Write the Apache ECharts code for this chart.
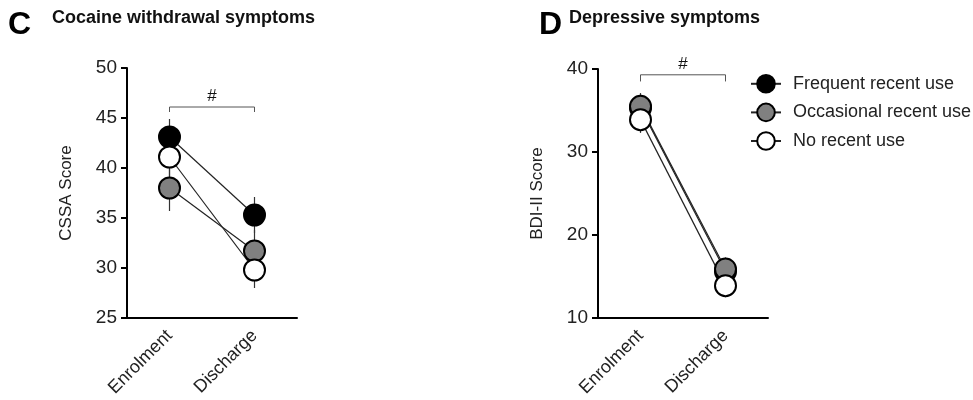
<!DOCTYPE html>
<html>
<head>
<meta charset="utf-8">
<script src="https://cdn.jsdelivr.net/npm/echarts@6/dist/echarts.min.js"></script>
<style>
  html, body { margin: 0; padding: 0; background: #fff; }
  #chart { width: 973px; height: 400px; }
</style>
</head>
<body>
<div id="chart"></div>
<script>
// data
var categories = ["Enrolment", "Discharge"];
var groups = ["Frequent recent use", "Occasional recent use", "No recent use"];
var groupFill = ["#000000", "#808080", "#ffffff"];

// C: CSSA score
var cssaFrequent = [43.1, 35.3];
var cssaOccasional = [38.0, 31.7];
var cssaNone = [41.1, 29.8];
var cssaFrequentErr = [[41.3, 44.9], [33.5, 37.1]];
var cssaOccasionalErr = [[35.7, 40.3], [29.6, 33.8]];
var cssaNoneErr = [[39.0, 43.2], [28.0, 31.6]];
var cssaTicks = { min: 25, max: 50, interval: 5 };
var cssaBracket = { level: 46.1, drop: 45.6 };

// D: BDI-II score
var bdiFrequent = [35.3, 15.6];
var bdiOccasional = [35.5, 15.9];
var bdiNone = [33.9, 13.9];
var bdiFrequentErr = [[33.5, 37.1], [14.0, 17.2]];
var bdiOccasionalErr = [[33.9, 37.0], [14.5, 17.3]];
var bdiNoneErr = [[32.3, 35.5], [12.5, 15.3]];
var bdiTicks = { min: 10, max: 40, interval: 10 };
var bdiBracket = { level: 39.3, drop: 38.5 };

var FONT = "Liberation Sans, Arial, sans-serif";

function makeXAxis(gridIndex) {
  return {
    type: "category",
    gridIndex: gridIndex,
    data: categories,
    boundaryGap: true,
    axisLine: { lineStyle: { color: "#000", width: 2 } },
    axisTick: { alignWithLabel: true, length: 6, lineStyle: { color: "#000", width: 2 } },
    axisLabel: { rotate: 45, interval: 0, margin: 15, fontSize: 18, color: "#222", fontFamily: FONT },
    splitLine: { show: false }
  };
}

function makeYAxis(gridIndex, ticks, name) {
  return {
    type: "value",
    gridIndex: gridIndex,
    min: ticks.min,
    max: ticks.max,
    interval: ticks.interval,
    name: name,
    nameLocation: "middle",
    nameGap: 52,
    nameTextStyle: { fontSize: 17, color: "#222", fontFamily: FONT },
    axisLine: { show: true, lineStyle: { color: "#000", width: 2 } },
    axisTick: { show: true, length: 6, lineStyle: { color: "#000", width: 2 } },
    axisLabel: { fontSize: 19, color: "#222", margin: 10, fontFamily: FONT },
    splitLine: { show: false }
  };
}

function lineSeries(idx, gridIndex, values) {
  return {
    name: groups[idx],
    type: "line",
    xAxisIndex: gridIndex,
    yAxisIndex: gridIndex,
    data: values,
    symbol: "circle",
    symbolSize: 21,
    z: 3,
    lineStyle: { color: "#222", width: 1.2 },
    itemStyle: { color: groupFill[idx], borderColor: "#000", borderWidth: 2 },
    emphasis: { disabled: true },
    animation: false
  };
}

function errorSeries(gridIndex, errs) {
  var data = [];
  errs.forEach(function (e) {
    e.forEach(function (r, i) { data.push([i, r[0], r[1]]); });
  });
  return {
    type: "custom",
    xAxisIndex: gridIndex,
    yAxisIndex: gridIndex,
    z: 1,
    silent: true,
    data: data,
    renderItem: function (params, api) {
      var lo = api.coord([api.value(0), api.value(1)]);
      var hi = api.coord([api.value(0), api.value(2)]);
      return {
        type: "line",
        shape: { x1: lo[0], y1: lo[1], x2: hi[0], y2: hi[1] },
        style: { stroke: "#333", lineWidth: 1.2 }
      };
    }
  };
}

function bracketSeries(gridIndex, br) {
  return {
    type: "custom",
    xAxisIndex: gridIndex,
    yAxisIndex: gridIndex,
    clip: false,
    silent: true,
    z: 2,
    data: [[0, br.level, br.drop]],
    renderItem: function (params, api) {
      var a = api.coord([0, api.value(1)]);
      var b = api.coord([1, api.value(1)]);
      var d = api.coord([0, api.value(2)]);
      return {
        type: "group",
        children: [
          {
            type: "polyline",
            shape: { points: [[a[0], d[1]], a, b, [b[0], d[1]]] },
            style: { stroke: "#555", lineWidth: 1, fill: null }
          },
          {
            type: "text",
            style: {
              text: "#", x: (a[0] + b[0]) / 2, y: a[1] - 2,
              align: "center", verticalAlign: "bottom",
              fontSize: 17, fill: "#111", fontFamily: FONT
            }
          }
        ]
      };
    }
  };
}

var chart = echarts.init(document.getElementById("chart"), null, { renderer: "canvas" });

chart.setOption({
  animation: false,
  textStyle: { fontFamily: FONT },
  graphic: [
    { type: "text", left: 8, top: 9, style: { text: "C", fontSize: 32, fontWeight: "bold", fill: "#000", fontFamily: FONT } },
    { type: "text", left: 52, top: 9, style: { text: "Cocaine withdrawal symptoms", fontSize: 18, fontWeight: "bold", fill: "#111", fontFamily: FONT } },
    { type: "text", left: 539, top: 9, style: { text: "D", fontSize: 32, fontWeight: "bold", fill: "#000", fontFamily: FONT } },
    { type: "text", left: 569, top: 9, style: { text: "Depressive symptoms", fontSize: 18, fontWeight: "bold", fill: "#111", fontFamily: FONT } }
  ],
  legend: {
    orient: "vertical",
    left: 745,
    top: 69,
    itemWidth: 30,
    itemHeight: 22,
    itemGap: 9,
    data: groups,
    selectedMode: false,
    textStyle: { fontSize: 18, color: "#222", fontFamily: FONT, padding: [0, 0, 0, 7] }
  },
  grid: [
    { left: 127, top: 68, width: 170, height: 250, containLabel: false },
    { left: 598, top: 69, width: 170, height: 249, containLabel: false }
  ],
  xAxis: [makeXAxis(0), makeXAxis(1)],
  yAxis: [makeYAxis(0, cssaTicks, "CSSA Score"), makeYAxis(1, bdiTicks, "BDI-II Score")],
  series: [
    errorSeries(0, [cssaFrequentErr, cssaOccasionalErr, cssaNoneErr]),
    bracketSeries(0, cssaBracket),
    lineSeries(0, 0, cssaFrequent),
    lineSeries(1, 0, cssaOccasional),
    lineSeries(2, 0, cssaNone),
    errorSeries(1, [bdiFrequentErr, bdiOccasionalErr, bdiNoneErr]),
    bracketSeries(1, bdiBracket),
    lineSeries(0, 1, bdiFrequent),
    lineSeries(1, 1, bdiOccasional),
    lineSeries(2, 1, bdiNone)
  ]
});
</script>
</body>
</html>
